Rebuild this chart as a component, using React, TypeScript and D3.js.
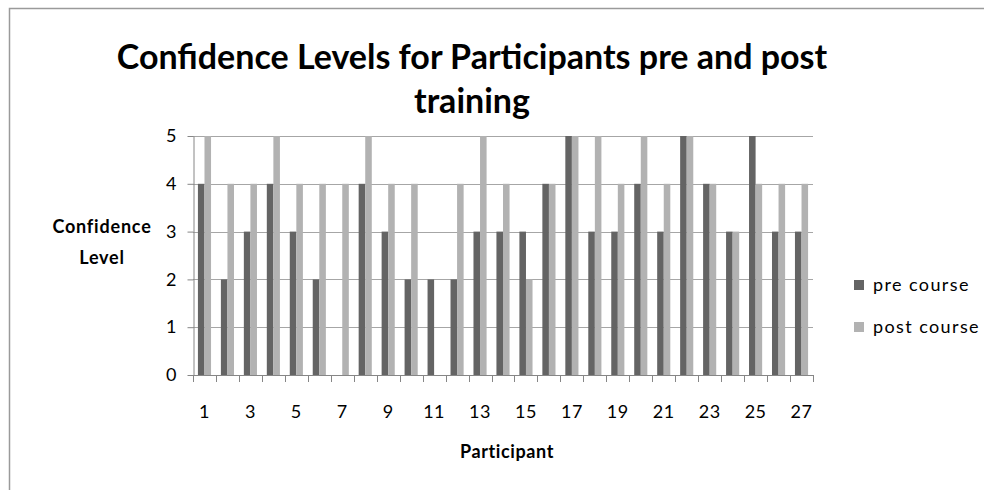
import { useEffect, useRef } from "react";
import * as d3 from "d3";

const participants = d3.range(1, 28).map(String);
const preCourse = [4, 2, 3, 4, 3, 2, 0, 4, 3, 2, 2, 2, 3, 3, 3, 4, 5, 3, 3, 4, 3, 5, 4, 3, 5, 3, 3];
const postCourse = [5, 4, 4, 5, 4, 4, 4, 5, 4, 4, 0, 4, 5, 4, 2, 4, 5, 5, 4, 5, 4, 5, 4, 3, 4, 4, 4];
const yTicks = [0, 1, 2, 3, 4, 5];
const seriesNames = ["pre course", "post course"];
const seriesColors = ["#646464", "#b2b2b2"];

const FONT = "Lato, 'Open Sans', sans-serif";

export default function App() {
  const svgRef = useRef<SVGSVGElement>(null);

  useEffect(() => {
    if (!svgRef.current) return;
    const svg = d3.select(svgRef.current);
    svg.selectAll("*").remove();

    const W = 984;
    const H = 490;
    const plot = { left: 193, right: 813, top: 136, bottom: 375 };

    // chart frame (only top and left edges are visible)
    svg
      .append("path")
      .attr("d", `M9.5,${H} V8.5 H${W}`)
      .attr("fill", "none")
      .attr("stroke", "#9a9a9a")
      .attr("stroke-width", 1.5);

    const x = d3
      .scaleBand()
      .domain(participants)
      .range([plot.left, plot.right])
      .paddingInner(0)
      .paddingOuter(0);

    const xSub = d3
      .scaleBand()
      .domain(seriesNames)
      .range([0, x.bandwidth()])
      .paddingInner(0)
      .paddingOuter(0.75);

    const y = d3.scaleLinear().domain([0, 5]).range([plot.bottom, plot.top]);

    // grid lines
    svg
      .append("g")
      .selectAll("line")
      .data(yTicks.filter((t) => t > 0))
      .enter()
      .append("line")
      .attr("x1", plot.left)
      .attr("x2", plot.right)
      .attr("y1", (d) => Math.round(y(d)) + 0.5)
      .attr("y2", (d) => Math.round(y(d)) + 0.5)
      .attr("stroke", "#a6a6a6");

    // bars
    const groups = svg
      .append("g")
      .selectAll("g")
      .data(participants)
      .enter()
      .append("g")
      .attr("transform", (d) => `translate(${x(d)},0)`);

    groups
      .selectAll("rect")
      .data((_, i) => [
        { key: seriesNames[0], value: preCourse[i], color: seriesColors[0] },
        { key: seriesNames[1], value: postCourse[i], color: seriesColors[1] },
      ])
      .enter()
      .append("rect")
      .attr("x", (d) => xSub(d.key) || 0)
      .attr("width", xSub.bandwidth())
      .attr("y", (d) => y(d.value))
      .attr("height", (d) => y(0) - y(d.value))
      .attr("fill", (d) => d.color);

    // y axis
    const yAxis = svg
      .append("g")
      .attr("transform", `translate(${plot.left + 0.5},0)`)
      .call(
        d3
          .axisLeft(y)
          .tickValues(yTicks)
          .tickFormat(d3.format("d"))
          .tickSizeInner(6)
          .tickSizeOuter(0)
          .tickPadding(11)
      );
    yAxis.select(".domain").attr("stroke", "#868686");
    yAxis.selectAll(".tick line").attr("stroke", "#868686");
    yAxis
      .selectAll("text")
      .attr("fill", "#000")
      .style("font-family", FONT)
      .style("font-size", "18px");

    // x axis line + ticks at category boundaries
    const xg = svg.append("g");
    xg.append("line")
      .attr("x1", plot.left)
      .attr("x2", plot.right)
      .attr("y1", plot.bottom + 0.5)
      .attr("y2", plot.bottom + 0.5)
      .attr("stroke", "#868686");
    const bounds = participants.map((p) => x(p) || 0).concat([plot.right]);
    xg.selectAll(".xt")
      .data(bounds)
      .enter()
      .append("line")
      .attr("x1", (d) => Math.round(d) + 0.5)
      .attr("x2", (d) => Math.round(d) + 0.5)
      .attr("y1", plot.bottom)
      .attr("y2", plot.bottom + 7)
      .attr("stroke", "#868686");
    xg.selectAll(".xl")
      .data(participants.filter((_, i) => i % 2 === 0))
      .enter()
      .append("text")
      .attr("x", (d) => (x(d) || 0) + x.bandwidth() / 2)
      .attr("y", 418)
      .attr("text-anchor", "middle")
      .style("font-family", FONT)
      .style("font-size", "18px")
      .style("letter-spacing", "0.5px")
      .text((d) => d);

    // title
    const title = svg
      .append("text")
      .attr("text-anchor", "middle")
      .style("font-family", FONT)
      .style("font-weight", "bold")
      .style("font-size", "34px");
    title.append("tspan").attr("x", 472).attr("y", 69).text("Confidence Levels for Participants pre and post");
    title.append("tspan").attr("x", 472).attr("y", 113).text("training");

    // axis titles
    const yt = svg
      .append("text")
      .attr("text-anchor", "middle")
      .style("font-family", FONT)
      .style("font-weight", "bold")
      .style("font-size", "18px")
      .style("letter-spacing", "0.8px");
    yt.append("tspan").attr("x", 102).attr("y", 233).text("Confidence");
    yt.append("tspan").attr("x", 102).attr("y", 264).text("Level");

    svg
      .append("text")
      .attr("x", 507)
      .attr("y", 458)
      .attr("text-anchor", "middle")
      .style("font-family", FONT)
      .style("font-weight", "bold")
      .style("font-size", "18px")
      .style("letter-spacing", "0.6px")
      .text("Participant");

    // legend
    const legend = svg
      .append("g")
      .selectAll("g")
      .data(seriesNames)
      .enter()
      .append("g")
      .attr("transform", (_, i) => `translate(854,${280 + i * 42})`);
    legend
      .append("rect")
      .attr("width", 10)
      .attr("height", 10)
      .attr("fill", (_, i) => seriesColors[i]);
    legend
      .append("text")
      .attr("x", 19)
      .attr("y", 11)
      .style("font-family", FONT)
      .style("font-size", "18px")
      .style("letter-spacing", "1.4px")
      .text((d) => d);
  }, []);

  return (
    <div style={{ position: "absolute", left: 0, top: 0, background: "#fff" }}>
      <svg ref={svgRef} width={984} height={490} />
    </div>
  );
}
